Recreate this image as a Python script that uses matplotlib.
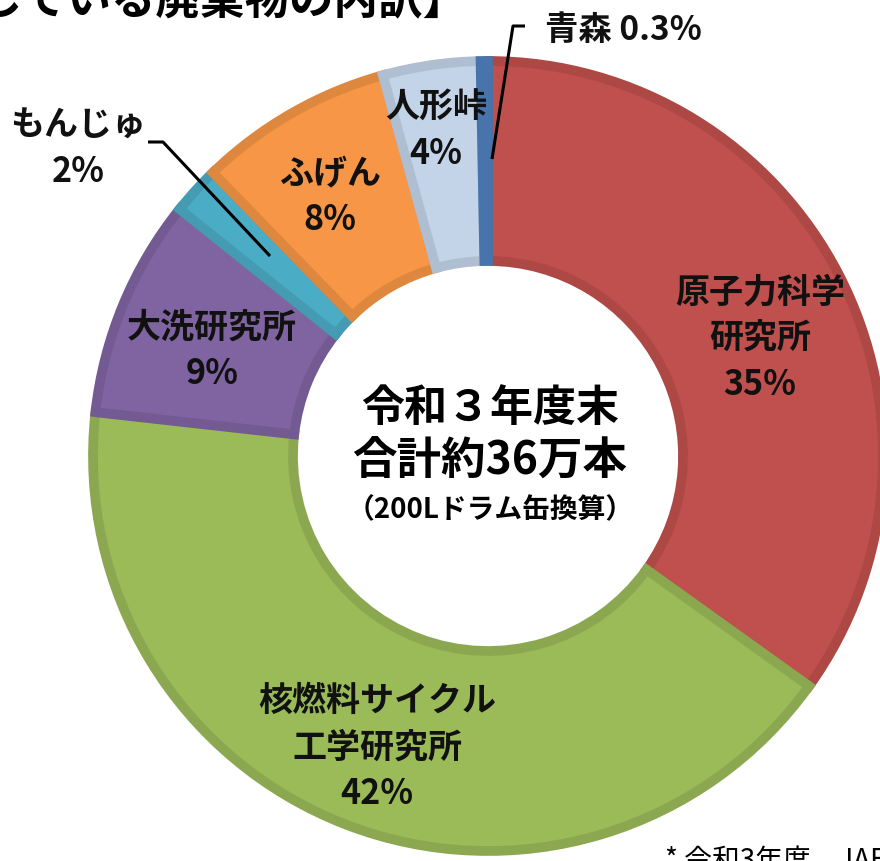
import numpy as np
import matplotlib.pyplot as plt
from matplotlib.colors import to_rgb

plt.rcParams['font.family'] = ['Noto Sans CJK JP', 'DejaVu Sans']

# 保管している廃棄物の内訳（%）
labels = ['原子力科学\n研究所', '核燃料サイクル\n工学研究所', '大洗研究所', 'もんじゅ', 'ふげん', '人形峠', '青森']
shares = [35, 42, 9, 2, 8, 4, 0.3]
pct_text = ['35%', '42%', '9%', '2%', '8%', '4%', '0.3%']
colors = ['#C0504D', '#9BBB59', '#8064A2', '#4BACC6', '#F79646', '#C3D3E8', '#4F81BD']

W, H = 880, 862
fig = plt.figure(figsize=(W / 100, H / 100), dpi=100)
ax = fig.add_axes([0, 0, 1, 1])

def Y(y):
    # пиксели сверху -> координаты снизу
    return H - y

cx, cy = 488, Y(457)
R, r_in = 395, 195

wedges, _ = ax.pie(shares, colors=colors, radius=R, center=(cx, cy), startangle=90,
                   counterclock=False, wedgeprops=dict(width=R - r_in, linewidth=0))
# тёмная фаска по краю каждого сектора
for w, c in zip(wedges, colors):
    dark = tuple(np.array(to_rgb(c)) * 0.9)
    w.set_edgecolor(dark)
    w.set_linewidth(7)
    w.set_clip_path(w)

ax.set_xlim(0, W)
ax.set_ylim(0, H)
ax.set_aspect('equal')
ax.axis('off')

lab_kw = dict(ha='center', va='center', fontsize=24.5, fontweight='bold', color='#111111',
              linespacing=1.4)
ax.text(760, Y(338), labels[0] + '\n' + pct_text[0], **lab_kw)
ax.text(377, Y(747), labels[1] + '\n' + pct_text[1], **lab_kw)
ax.text(212, Y(350), labels[2] + '\n' + pct_text[2], **lab_kw)
ax.text(78, Y(148), labels[3] + '\n' + pct_text[3], **lab_kw)
ax.text(330, Y(196), labels[4] + '\n' + pct_text[4], **lab_kw)
ax.text(436, Y(130), labels[5] + '\n' + pct_text[5], **lab_kw)
ax.text(545, Y(30), labels[6] + ' ' + pct_text[6], ha='left', va='center', fontsize=24,
        fontweight='bold', color='#111111')

# выноски
ax.plot([148, 163, 270], [Y(143), Y(143), Y(257)], color='black', lw=2.2, solid_capstyle='butt')
ax.plot([525, 513, 492], [Y(27), Y(27), Y(160)], color='black', lw=2.2, solid_capstyle='butt')

# центр
ax.text(cx + 2, Y(408), '令和３年度末', ha='center', va='center', fontsize=31, fontweight='bold')
ax.text(cx + 2, Y(462), '合計約36万本', ha='center', va='center', fontsize=32, fontweight='bold')
ax.text(cx + 2, Y(510), '（200Lドラム缶換算）', ha='center', va='center', fontsize=20,
        fontweight='bold')

# обрезанные заголовок и сноска
ax.text(468, Y(14), '【保管している廃棄物の内訳】', ha='right', va='baseline', fontsize=32,
        fontweight='bold')
ax.text(665, Y(846), '* 令和3年度、JAEA調べ', ha='left', va='top', fontsize=20)

fig.savefig('out.png', dpi=100)
